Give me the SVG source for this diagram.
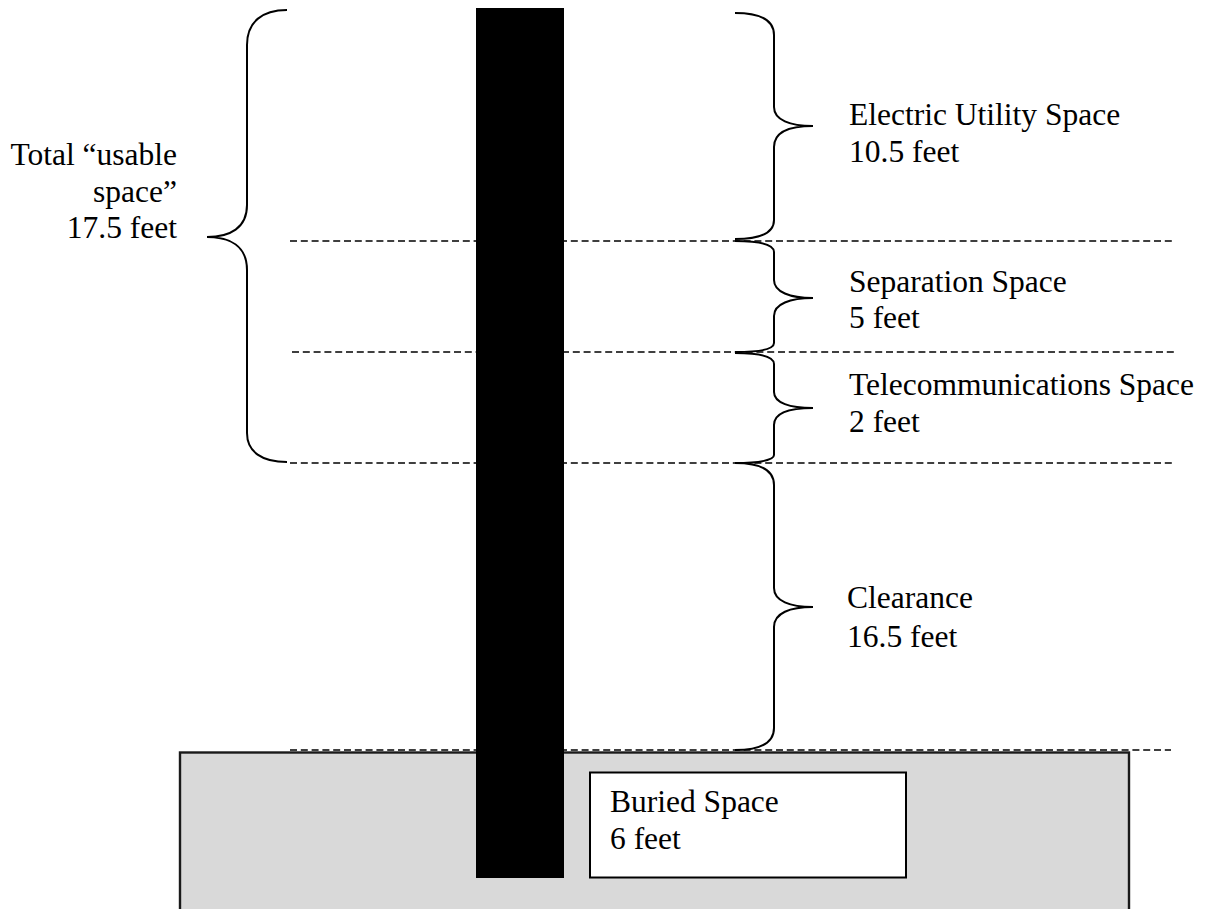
<svg xmlns="http://www.w3.org/2000/svg" width="1207" height="909" viewBox="0 0 1207 909">
<style>
.t{font-family:"Liberation Serif","Times New Roman",serif;font-size:31.5px;fill:#000}
.dash{stroke:#000;stroke-width:1.7;stroke-dasharray:7 3.8;fill:none}
.brace{stroke:#000;stroke-width:2;fill:none}
</style>
<rect width="1207" height="909" fill="#fff"/>
<g id="ground">
<rect x="180" y="752.5" width="949" height="170" fill="#d9d9d9" stroke="#1a1a1a" stroke-width="2.4"/>
</g>
<g id="connectors">
<line class="dash" x1="290" y1="241" x2="1173" y2="241"/>
<line class="dash" x1="292" y1="352" x2="1175" y2="352"/>
<line class="dash" x1="290" y1="463" x2="1173" y2="463"/>
<line class="dash" x1="290" y1="750" x2="1171" y2="750"/>
<path class="brace" d="M287,10 C262,10 247,22 247,45 L247,205 C247,228 230,237 207,237 C230,237 247,246 247,270 L247,433 C247,452 262,462 287,462"/>
<path class="brace" d="M735,13 C760,13 774,20 774,35 L774,107 C774,120 790,126 813,126 C790,126 774,132 774,147 L774,220 C774,233 760,239 735,239"/>
<path class="brace" d="M735,241 C760,241 774,244 774,252 L774,280 C774,292 790,298 813,298 C790,298 774,304 774,316 L774,343 C774,349 760,352 735,352"/>
<path class="brace" d="M735,353 C760,353 774,356 774,364 L774,392 C774,403 790,408 813,408 C790,408 774,413 774,425 L774,455 C774,460 760,463 735,463"/>
<path class="brace" d="M735,463 C760,463 774,470 774,485 L774,588 C774,601 790,607 813,607 C790,607 774,613 774,627 L774,728 C774,743 760,750 735,750"/>
</g>
<g id="pole">
<rect x="476" y="8" width="88" height="870" fill="#000"/>
</g>
<g id="buried">
<rect x="590" y="772.5" width="316" height="105" fill="#fff" stroke="#000" stroke-width="2"/>
<text class="t" x="610" y="812">Buried Space</text>
<text class="t" x="610" y="849">6 feet</text>
</g>
<g id="total">
<text class="t" x="177" y="165" text-anchor="end">Total “usable</text>
<text class="t" x="177" y="202" text-anchor="end">space”</text>
<text class="t" x="177" y="238" text-anchor="end">17.5 feet</text>
</g>
<g id="electric">
<text class="t" x="849" y="125">Electric Utility Space</text>
<text class="t" x="849" y="162">10.5 feet</text>
</g>
<g id="separation">
<text class="t" x="849" y="292">Separation Space</text>
<text class="t" x="849" y="328">5 feet</text>
</g>
<g id="telecom">
<text class="t" x="849" y="395">Telecommunications Space</text>
<text class="t" x="849" y="432">2 feet</text>
</g>
<g id="clearance">
<text class="t" x="847" y="608">Clearance</text>
<text class="t" x="847" y="647">16.5 feet</text>
</g>
</svg>
